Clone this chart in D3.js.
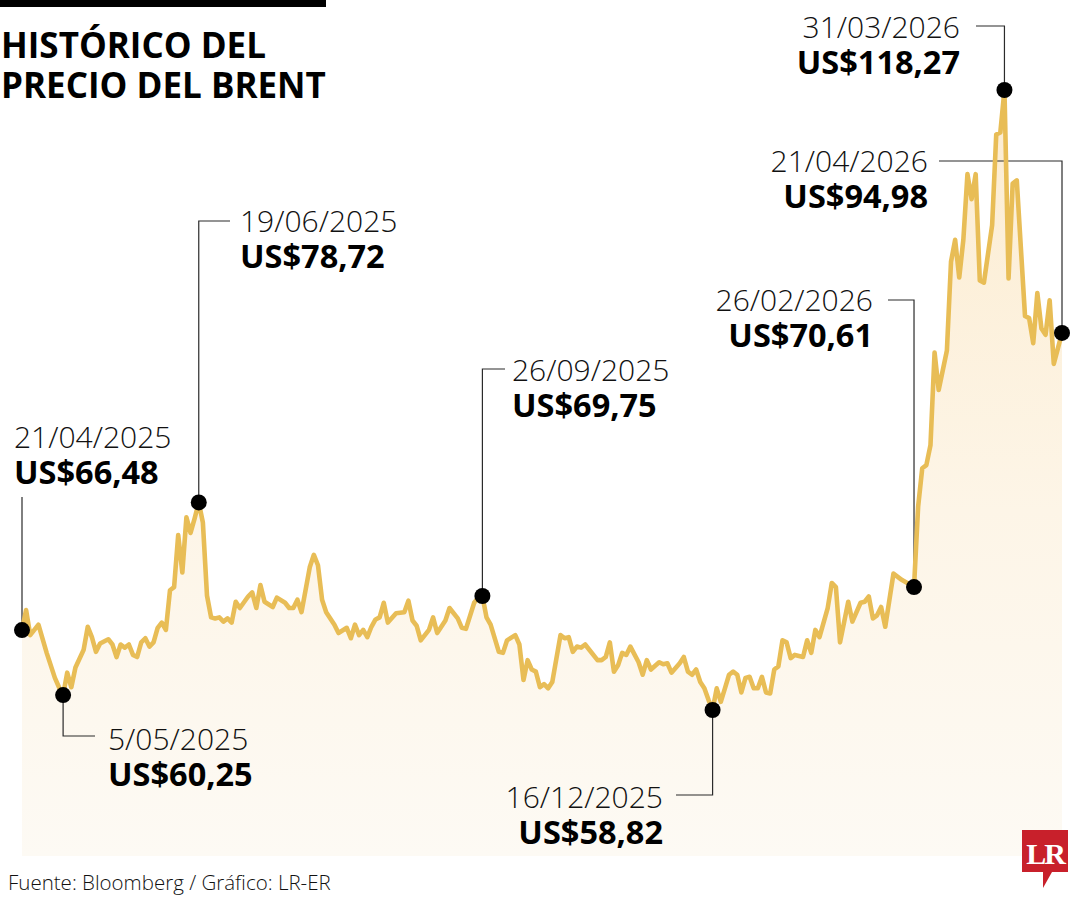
<!DOCTYPE html>
<html>
<head>
<meta charset="utf-8">
<script src="https://cdn.jsdelivr.net/npm/d3@7"></script>
<style>
  html, body { margin: 0; padding: 0; background: #ffffff; }
  svg { display: block; }
</style>
</head>
<body>
<svg id="chart" width="1080" height="900"></svg>
<script>
// ---- DATA ----
const titleLines = ["HISTÓRICO DEL", "PRECIO DEL BRENT"];
const sourceText = "Fuente: Bloomberg / Gráfico: LR-ER";

// trading-day index (0 = 21/04/2025, 253 = 21/04/2026)
const tradingDay = [
  0,1,2,4,6,8,9,10,11,12,13,15,16,17,18,19,21,22,23,24,25,26,27,28,29,30,31,32,33,34,35,36,37,38,39,40,41,42,43,44,45,46,47,48,49,50,51,52,53,55,56,57,58,59,61,62,
  64,65,66,67,68,70,71,72,73,74,76,77,79,80,81,82,83,84,85,86,87,88,89,91,93,94,95,96,97,99,100,101,103,104,106,107,108,110,111,112,113,114,116,117,118,120,121,122,123,
  124,125,126,127,128,129,131,132,133,134,135,136,137,138,140,141,142,143,144,145,146,147,148,150,151,152,153,155,156,157,158,160,161,162,163,164,165,166,167,168,
  169,170,171,172,173,174,175,176,177,178,179,180,181,182,183,184,185,186,187,188,189,190,191,192,193,194,196,197,198,199,201,202,204,205,206,207,208,209,210,212,214,217,
  218,219,220,221,222,223,225,226,227,228,229,230,231,232,233,234,236,237,238,239,240,241,242,244,245,246,247,248,249,250,251,252,253
];
// Brent price, US$ per barrel
const brentPrice = [
  66.48,68.4,66.0,67.0,64.3,61.9,61.0,60.25,62.4,61.0,62.9,64.6,66.8,65.8,64.4,65.2,65.6,65.1,63.9,65.1,64.8,65.1,64.1,63.9,65.3,65.7,64.9,65.3,66.7,67.2,66.5,70.3,70.6,75.6,72.0,77.3,75.8,77.2,78.72,76.8,69.8,67.7,67.6,67.7,67.3,67.6,67.2,69.2,68.6,69.7,70.1,68.6,70.8,69.2,68.7,69.6,
  69.1,68.6,68.6,69.4,68.2,72.5,73.7,72.7,69.4,68.2,67.0,66.2,66.7,65.7,67.0,66.0,66.5,65.8,66.8,67.5,67.7,69.1,67.2,68.1,68.2,69.3,67.4,66.9,65.5,66.5,67.7,66.2,67.4,68.6,67.6,66.7,66.6,69.1,69.6,69.75,67.7,67.0,64.4,64.3,65.5,66.0,65.1,61.7,63.6,
  62.7,62.5,61.0,61.3,60.9,61.5,66.0,65.7,65.8,64.4,64.9,64.8,65.1,64.6,63.6,63.6,63.9,65.3,62.5,63.1,64.3,64.1,64.9,63.4,62.2,63.6,62.7,63.4,63.2,63.3,62.4,63.3,63.9,62.5,62.2,62.7,61.5,60.9,59.8,58.82,
  60.9,59.6,60.9,62.2,62.5,62.2,60.5,61.9,62.0,60.9,60.9,62.0,60.5,60.4,62.7,63.0,65.5,65.3,63.8,64.1,64.0,63.9,65.5,64.3,66.5,65.8,68.6,71.0,70.6,65.3,69.2,67.3,69.1,69.2,69.7,67.6,67.9,68.7,66.8,71.9,71.3,70.61,
  78.3,82.0,82.3,84.2,93.1,89.5,93.3,101.8,103.9,100.3,103.9,110.2,107.8,110.2,100.0,99.8,105.3,114.0,114.2,118.27,100.2,109.3,109.6,96.6,96.4,94.0,98.8,95.4,94.8,98.1,92.0,93.5,94.98
];

// annotated points
const annDate  = ["21/04/2025", "5/05/2025", "19/06/2025", "26/09/2025", "16/12/2025", "26/02/2026", "31/03/2026", "21/04/2026"];
const annDay   = [0, 10, 43, 112, 168, 217, 239, 253];
const annPrice = [66.48, 60.25, 78.72, 69.75, 58.82, 70.61, 118.27, 94.98];

// ---- LAYOUT (leader shapes, label placement) ----
const annLayout = [
  { elbowY: 497, armX: null, tx: 14,  ty: 448, anchor: "start" },
  { elbowY: 736, armX: 95,   tx: 108, ty: 750, anchor: "start" },
  { elbowY: 221, armX: 230,  tx: 240, ty: 232, anchor: "start" },
  { elbowY: 369, armX: 505,  tx: 512, ty: 381, anchor: "start" },
  { elbowY: 795, armX: 676,  tx: 663, ty: 808, anchor: "end" },
  { elbowY: 300, armX: 888,  tx: 873, ty: 311, anchor: "end" },
  { elbowY: 26,  armX: 976,  tx: 960, ty: 38,  anchor: "end" },
  { elbowY: 161, armX: 939,  tx: 928, ty: 172, anchor: "end" }
];

const svg = d3.select("#chart");

const x = d3.scaleLinear().domain([0, 253]).range([22, 1062]);
const y = d3.scaleLinear().domain([44.82, 118.27]).range([856, 90]);

const series = tradingDay.map((d, i) => ({ d, v: brentPrice[i] }));

// gradient
const defs = svg.append("defs");
const grad = defs.append("linearGradient")
  .attr("id", "areaGrad").attr("gradientUnits", "userSpaceOnUse")
  .attr("x1", 0).attr("x2", 0).attr("y1", 90).attr("y2", 856);
grad.append("stop").attr("offset", 0).attr("stop-color", "#fcecd0");
grad.append("stop").attr("offset", 0.55).attr("stop-color", "#fdf5e7");
grad.append("stop").attr("offset", 1).attr("stop-color", "#fdfaf4");

// top bar
svg.append("rect").attr("x", 0).attr("y", 0).attr("width", 326).attr("height", 7).attr("fill", "#000");

// title (one text element, two lines)
const title = svg.append("text")
  .attr("font-family", "'Open Sans', sans-serif").attr("font-weight", 700)
  .attr("font-size", 35).attr("fill", "#000");
title.selectAll("tspan").data(titleLines).join("tspan")
  .attr("x", 1).attr("y", (d, i) => 58 + i * 40)
  .text(d => d);

// area
const area = d3.area().x(p => x(p.d)).y0(y.range()[0]).y1(p => y(p.v)).curve(d3.curveLinear);
svg.append("path").datum(series).attr("d", area).attr("fill", "url(#areaGrad)");

// leaders
const ann = annDate.map((d, i) => ({ date: d, day: annDay[i], v: annPrice[i], L: annLayout[i] }));
svg.append("g").selectAll("path").data(ann).join("path")
  .attr("d", a => {
    const px = x(a.day), py = y(a.v);
    let p = `M${px},${py}L${px},${a.L.elbowY}`;
    if (a.L.armX !== null) p += `L${a.L.armX},${a.L.elbowY}`;
    return p;
  })
  .attr("fill", "none").attr("stroke", "#2b2b2b").attr("stroke-width", 1.2);

// line
const line = d3.line().x(p => x(p.d)).y(p => y(p.v)).curve(d3.curveLinear);
svg.append("path").datum(series).attr("d", line)
  .attr("fill", "none").attr("stroke", "#e8bd56").attr("stroke-width", 4.6)
  .attr("stroke-linejoin", "round");

// dots
svg.append("g").selectAll("circle").data(ann).join("circle")
  .attr("cx", a => x(a.day)).attr("cy", a => y(a.v)).attr("r", 8).attr("fill", "#000");

// labels: one text element per annotation, date + price as tspans
const fmt = v => "US$" + v.toFixed(2).replace(".", ",");
const labels = svg.append("g").selectAll("text").data(ann).join("text")
  .attr("text-anchor", a => a.L.anchor)
  .attr("font-family", "'Open Sans', sans-serif");
labels.append("tspan")
  .attr("x", a => a.L.tx).attr("y", a => a.L.ty)
  .attr("font-weight", 300).attr("font-size", 30).attr("fill", "#111")
  .text(a => a.date);
labels.append("tspan")
  .attr("x", a => a.L.tx).attr("y", a => a.L.ty + 36)
  .attr("font-weight", 700).attr("font-size", 32.5).attr("fill", "#000")
  .text(a => fmt(a.v));

// source
svg.append("text").attr("x", 8).attr("y", 890)
  .attr("font-family", "'Open Sans', sans-serif").attr("font-weight", 300)
  .attr("font-size", 20.5).attr("fill", "#111").text(sourceText);

// LR logo
const logo = svg.append("g");
logo.append("path")
  .attr("d", "M1022,830H1068V872H1052L1043,888V872H1022Z")
  .attr("fill", "#c8202b");
logo.append("text").attr("x", 1045).attr("y", 864).attr("text-anchor", "middle")
  .attr("font-family", "'Liberation Serif', 'DejaVu Serif', serif").attr("font-weight", 700)
  .attr("font-size", 30).attr("letter-spacing", -2).attr("fill", "#fff").text("LR");
</script>
</body>
</html>
